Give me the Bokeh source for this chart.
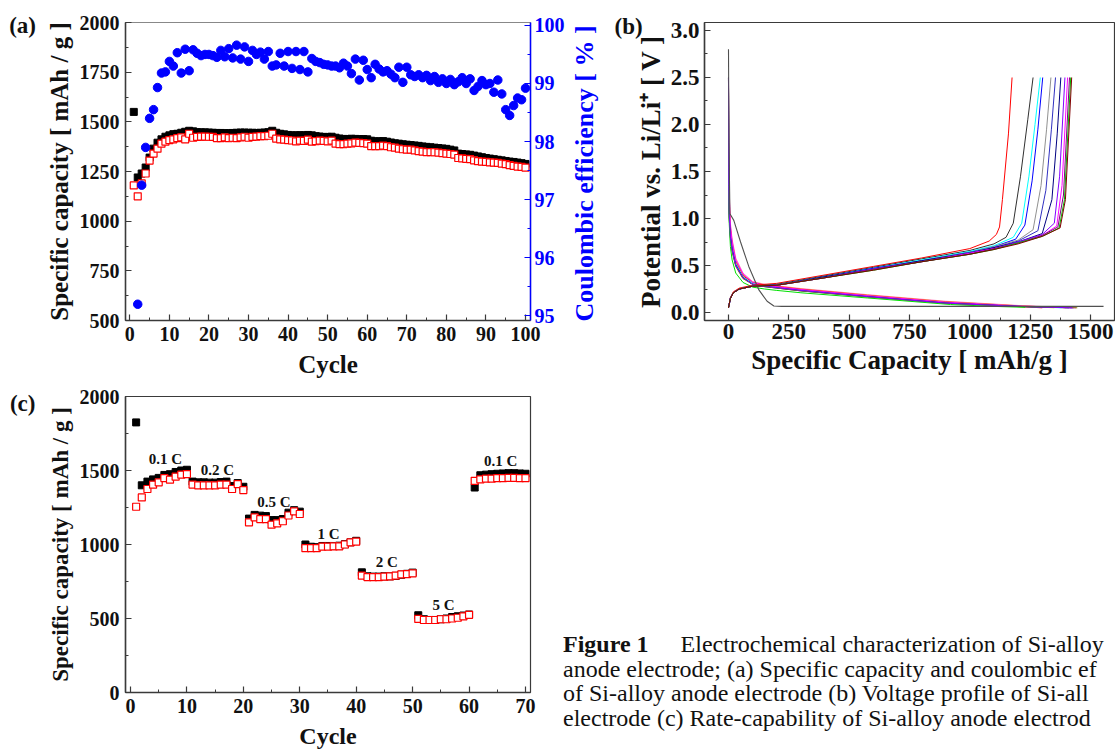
import math
from bokeh.plotting import figure
from bokeh.models import Range1d, LinearAxis, SingleIntervalTicker, Label, PrintfTickFormatter, Div
from bokeh.layouts import column, row
from bokeh.embed import file_html
from bokeh.resources import INLINE

SERIF = "Liberation Serif"

# ---------------- Panel (a): cycling, 100 cycles ----------------
cycles_a = list(range(1, 101))
discharge_a = [1550, 1220, 1240, 1270, 1320, 1365, 1395, 1412, 1425, 1432,
               1438, 1440, 1445, 1450, 1455, 1452, 1448, 1447, 1447, 1446,
               1445, 1444, 1444, 1443, 1443, 1444, 1445, 1446, 1446, 1445,
               1445, 1444, 1445, 1446, 1448, 1455, 1445, 1440, 1437, 1434,
               1432, 1432, 1433, 1432, 1434, 1432, 1428, 1426, 1424, 1424,
               1425, 1420, 1416, 1414, 1413, 1415, 1414, 1413, 1413, 1412,
               1405, 1402, 1402, 1403, 1400, 1396, 1392, 1390, 1387, 1385,
               1383, 1381, 1379, 1376, 1374, 1372, 1370, 1368, 1366, 1364,
               1360, 1356, 1340, 1338, 1336, 1334, 1330, 1326, 1322, 1318,
               1315, 1312, 1309, 1306, 1303, 1300, 1298, 1295, 1292, 1288]
charge_a = [1180, 1125, 1190, 1240, 1305, 1340, 1365, 1390, 1400, 1408,
            1412, 1418, 1422, 1412, 1440, 1420, 1424, 1426, 1426, 1425,
            1424, 1418, 1418, 1422, 1418, 1420, 1418, 1422, 1425, 1420,
            1424, 1426, 1428, 1428, 1430, 1440, 1415, 1412, 1410, 1408,
            1406, 1402, 1405, 1404, 1410, 1400, 1403, 1405, 1404, 1402,
            1405, 1390, 1388, 1388, 1390, 1392, 1395, 1394, 1393, 1390,
            1378, 1378, 1378, 1380, 1378, 1372, 1370, 1365, 1362, 1360,
            1360, 1356, 1353, 1350, 1348, 1348, 1347, 1345, 1342, 1340,
            1338, 1335, 1318, 1316, 1314, 1312, 1306, 1302, 1300, 1298,
            1296, 1295, 1293, 1290, 1287, 1282, 1278, 1275, 1273, 1270]
ce_cycles = list(range(2, 101))
ce_a = [95.2, 97.25, 97.9, 98.4, 98.55, 98.93, 99.18, 99.2, 99.38,
        99.3, 99.53, 99.18, 99.59, 99.22, 99.58, 99.52, 99.48, 99.5, 99.5,
        99.48, 99.45, 99.57, 99.46, 99.6, 99.44, 99.66, 99.42, 99.63, 99.38,
        99.57, 99.5, 99.54, 99.42, 99.55, 99.3, 99.32, 99.52, 99.3, 99.55,
        99.26, 99.55, 99.24, 99.55, 99.2, 99.43, 99.38, 99.36, 99.33, 99.32,
        99.3, 99.3, 99.27, 99.35, 99.3, 99.17, 99.42, 99.06, 99.4, 99.24,
        99.1, 99.33, 99.25, 99.2, 99.22, 99.16, 99.1, 99.28, 99.02, 99.28,
        99.15, 99.12, 99.15, 99.1, 99.14, 99.05, 99.12, 99.02, 99.08, 99.0,
        99.07, 98.98, 99.03, 99.1, 99.0, 99.08, 98.88, 98.95, 99.05, 98.98,
        99.0, 98.85, 99.06, 98.82, 98.55, 98.45, 98.62, 98.75, 98.72, 98.92]

# ---------------- Panel (b): voltage profiles ----------------
first_dis_cap = [0, 2, 6, 22, 50, 84, 126, 160, 188, 220, 1554]
first_dis_v = [2.80, 1.80, 1.05, 0.98, 0.75, 0.49, 0.24, 0.12, 0.07, 0.065, 0.065]
first_dis_color = "#505050"

dis_colors = ["#FF80C0", "#FF8000", "#FF0000", "#E0E000", "#00FFFF", "#0000FF",
              "#FF00FF", "#000080", "#808000", "#00E000", "#8000FF"]
dis_caps = [
    [0, 1, 3, 8, 15, 30, 60, 100, 150, 200, 300, 575, 900, 1200, 1420],
    [0, 1, 3, 8, 15, 30, 60, 100, 150, 200, 300, 575, 900, 1200, 1400],
    [0, 1, 3, 8, 15, 30, 60, 100, 150, 200, 300, 575, 900, 1150, 1300],
    [0, 1, 3, 8, 15, 30, 60, 100, 150, 200, 300, 575, 900, 1200, 1350],
    [0, 1, 3, 8, 15, 30, 60, 100, 150, 200, 300, 575, 900, 1200, 1380],
    [0, 1, 3, 8, 15, 30, 60, 100, 150, 200, 300, 575, 900, 1200, 1430],
    [0, 1, 3, 8, 15, 30, 60, 100, 150, 200, 300, 575, 900, 1200, 1440],
    [0, 1, 3, 8, 15, 30, 60, 100, 150, 200, 300, 575, 900, 1200, 1410],
    [0, 1, 3, 8, 15, 30, 60, 100, 150, 200, 300, 575, 900, 1200, 1445],
    [0, 1, 3, 8, 15, 30, 60, 100, 150, 200, 300, 575, 920, 1100, 1230],
    [0, 1, 3, 8, 15, 30, 60, 100, 150, 200, 300, 575, 900, 1200, 1425],
]
dis_volts = [
    [2.50, 1.70, 1.30, 0.95, 0.78, 0.58, 0.42, 0.33, 0.30, 0.285, 0.255, 0.19, 0.12, 0.075, 0.05],
    [2.50, 1.55, 1.20, 0.90, 0.74, 0.55, 0.40, 0.32, 0.295, 0.28, 0.25, 0.185, 0.115, 0.072, 0.05],
    [2.50, 1.50, 1.15, 0.88, 0.72, 0.54, 0.39, 0.32, 0.29, 0.275, 0.245, 0.18, 0.11, 0.07, 0.05],
    [2.50, 1.45, 1.12, 0.86, 0.70, 0.53, 0.38, 0.31, 0.285, 0.27, 0.24, 0.178, 0.108, 0.068, 0.05],
    [2.50, 1.40, 1.10, 0.84, 0.69, 0.52, 0.38, 0.31, 0.28, 0.265, 0.235, 0.172, 0.104, 0.066, 0.05],
    [2.50, 1.35, 1.05, 0.82, 0.68, 0.51, 0.37, 0.30, 0.28, 0.265, 0.235, 0.17, 0.10, 0.065, 0.05],
    [2.50, 1.60, 1.25, 0.92, 0.76, 0.56, 0.41, 0.32, 0.29, 0.275, 0.245, 0.18, 0.11, 0.07, 0.05],
    [2.50, 1.30, 1.00, 0.80, 0.66, 0.50, 0.37, 0.30, 0.275, 0.26, 0.23, 0.168, 0.10, 0.065, 0.05],
    [2.50, 1.30, 1.00, 0.78, 0.65, 0.49, 0.36, 0.30, 0.275, 0.26, 0.23, 0.165, 0.098, 0.063, 0.05],
    [2.50, 1.30, 0.95, 0.70, 0.56, 0.42, 0.32, 0.27, 0.25, 0.235, 0.21, 0.155, 0.085, 0.065, 0.055],
    [2.50, 1.35, 1.05, 0.80, 0.67, 0.50, 0.37, 0.30, 0.28, 0.265, 0.235, 0.17, 0.10, 0.065, 0.05],
]

chg_colors = ["#FF0000", "#303030", "#00FFFF", "#0000FF", "#909090", "#3030C0",
              "#000080", "#8000FF", "#FF00FF", "#800080", "#00C000", "#800000"]
chg_caps = [
    [0, 8, 20, 45, 100, 200, 400, 600, 800, 1000, 1080, 1110, 1123, 1135, 1160, 1175],
    [0, 8, 20, 45, 100, 200, 400, 600, 800, 1000, 1100, 1150, 1180, 1210, 1240, 1262],
    [0, 8, 20, 45, 100, 200, 400, 600, 800, 1000, 1100, 1180, 1215, 1245, 1270, 1292],
    [0, 8, 20, 45, 100, 200, 400, 600, 800, 1000, 1100, 1190, 1228, 1258, 1282, 1302],
    [0, 8, 20, 45, 100, 200, 400, 600, 800, 1000, 1100, 1200, 1262, 1295, 1318, 1336],
    [0, 8, 20, 45, 100, 200, 400, 600, 800, 1000, 1100, 1200, 1282, 1315, 1338, 1355],
    [0, 8, 20, 45, 100, 200, 400, 600, 800, 1000, 1100, 1200, 1300, 1340, 1362, 1377],
    [0, 8, 20, 45, 100, 200, 400, 600, 800, 1000, 1100, 1200, 1300, 1350, 1372, 1394],
    [0, 8, 20, 45, 100, 200, 400, 600, 800, 1000, 1100, 1200, 1300, 1360, 1382, 1405],
    [0, 8, 20, 45, 100, 200, 400, 600, 800, 1000, 1100, 1200, 1300, 1365, 1388, 1413],
    [0, 8, 20, 45, 100, 200, 400, 600, 800, 1000, 1100, 1200, 1300, 1370, 1392, 1418],
    [0, 8, 20, 45, 100, 200, 400, 600, 800, 1000, 1100, 1200, 1300, 1374, 1396, 1422],
]
chg_volts = [
    [0.05, 0.16, 0.22, 0.26, 0.29, 0.31, 0.40, 0.49, 0.58, 0.68, 0.76, 0.83, 0.91, 1.20, 1.90, 2.50],
    [0.05, 0.15, 0.21, 0.25, 0.28, 0.30, 0.39, 0.48, 0.57, 0.66, 0.73, 0.80, 0.95, 1.45, 2.05, 2.50],
    [0.05, 0.15, 0.21, 0.25, 0.28, 0.29, 0.38, 0.47, 0.56, 0.65, 0.71, 0.80, 0.95, 1.45, 2.00, 2.50],
    [0.05, 0.15, 0.21, 0.25, 0.28, 0.29, 0.38, 0.47, 0.55, 0.64, 0.70, 0.78, 0.93, 1.40, 1.95, 2.50],
    [0.05, 0.15, 0.21, 0.25, 0.28, 0.29, 0.38, 0.46, 0.55, 0.64, 0.70, 0.77, 0.88, 1.35, 1.95, 2.50],
    [0.05, 0.15, 0.21, 0.25, 0.28, 0.29, 0.38, 0.46, 0.55, 0.64, 0.69, 0.76, 0.87, 1.30, 1.95, 2.50],
    [0.05, 0.15, 0.21, 0.25, 0.28, 0.29, 0.38, 0.46, 0.55, 0.63, 0.69, 0.75, 0.84, 1.20, 1.90, 2.50],
    [0.05, 0.15, 0.21, 0.25, 0.28, 0.29, 0.37, 0.46, 0.54, 0.63, 0.68, 0.75, 0.83, 0.95, 1.45, 2.50],
    [0.05, 0.15, 0.21, 0.25, 0.28, 0.29, 0.37, 0.46, 0.54, 0.63, 0.68, 0.74, 0.82, 0.92, 1.35, 2.50],
    [0.05, 0.15, 0.21, 0.25, 0.28, 0.29, 0.37, 0.46, 0.54, 0.62, 0.68, 0.74, 0.82, 0.91, 1.25, 2.50],
    [0.05, 0.15, 0.21, 0.25, 0.28, 0.29, 0.37, 0.45, 0.54, 0.62, 0.67, 0.74, 0.81, 0.90, 1.20, 2.50],
    [0.05, 0.15, 0.21, 0.25, 0.28, 0.29, 0.37, 0.45, 0.54, 0.62, 0.67, 0.73, 0.81, 0.90, 1.20, 2.50],
]

# ---------------- Panel (c): rate capability, 70 cycles ----------------
cycles_c = list(range(1, 71))
discharge_c = [1825, 1400, 1425, 1440, 1450, 1470, 1475, 1490, 1500, 1505,
               1425, 1420, 1420, 1418, 1418, 1422, 1425, 1395, 1415, 1390,
               1175, 1200, 1195, 1192, 1165, 1165, 1172, 1215, 1232, 1222,
               1000, 985, 982, 990, 990, 990, 992, 1002, 1015, 1025,
               812, 785, 783, 783, 785, 785, 788, 796, 802, 810,
               522, 495, 490, 490, 495, 500, 510, 515, 520, 527,
               1385, 1468, 1472, 1475, 1478, 1480, 1482, 1482, 1480, 1478]
charge_c = [1255, 1318, 1375, 1404, 1420, 1449, 1438, 1458, 1472, 1476,
            1405, 1400, 1400, 1400, 1400, 1405, 1405, 1375, 1408, 1368,
            1150, 1183, 1172, 1172, 1134, 1143, 1157, 1196, 1224, 1206,
            975, 975, 975, 985, 985, 988, 988, 1000, 1015, 1020,
            790, 780, 780, 780, 783, 785, 790, 798, 800, 805,
            497, 490, 490, 490, 495, 495, 500, 505, 515, 525,
            1430, 1440, 1445, 1445, 1448, 1448, 1450, 1450, 1448, 1448]
rate_labels = ["0.1 C", "0.2 C", "0.5 C", "1 C", "2 C", "5 C", "0.1 C"]
rate_label_x = [6.2, 15.4, 25.4, 35.1, 45.4, 55.5, 65.6]
rate_label_y = [1580, 1505, 1285, 1073, 880, 594, 1566]

# caption text as visible in the reference (the page edge cuts it)
caption_head = "Figure 1"
caption_first = "Electrochemical characterization of Si-alloy"
caption_lines = [
    "anode electrode; (a) Specific capacity and coulombic ef",
    "of Si-alloy anode electrode (b) Voltage profile of Si-all",
    "electrode (c) Rate-capability of Si-alloy anode electrod",
]


def style_axis(ax, tick_size, label_size, color="#111111", line_color="#3a3a3a",
               label_standoff=6, axis_standoff=6):
    ax.major_label_text_font = SERIF
    ax.major_label_text_font_style = "bold"
    ax.major_label_text_font_size = tick_size
    ax.major_label_text_color = color
    ax.axis_label_text_font = SERIF
    ax.axis_label_text_font_style = "bold"
    ax.axis_label_text_font_size = label_size
    ax.axis_label_text_color = color
    ax.axis_line_color = line_color
    ax.axis_line_width = 1.5
    ax.major_tick_line_color = line_color
    ax.minor_tick_line_color = line_color
    ax.major_tick_line_width = 1.2
    ax.minor_tick_line_width = 1.0
    ax.major_tick_in = 6
    ax.major_tick_out = 0
    ax.minor_tick_in = 3
    ax.minor_tick_out = 0
    ax.major_label_standoff = label_standoff
    ax.axis_label_standoff = axis_standoff


def base_fig(**kw):
    p = figure(toolbar_location=None, output_backend="svg", **kw)
    p.xgrid.grid_line_color = None
    p.ygrid.grid_line_color = None
    p.background_fill_color = "white"
    p.border_fill_color = "white"
    p.outline_line_color = "#3a3a3a"
    p.outline_line_width = 1.2
    return p


def panel_label(text, x, y, size="23px"):
    return Label(x=x, y=y, text=text, text_align="center", text_baseline="middle",
                 text_font=SERIF, text_font_style="bold", text_font_size=size, text_color="#111111")


# ---------- (a) ----------
pa = base_fig(width=600, height=385, x_range=Range1d(-1.09, 101.26), y_range=Range1d(500, 2000),
              min_border_left=125, min_border_right=70, min_border_top=22, min_border_bottom=65,
              x_axis_label="Cycle", y_axis_label="Specific capacity [ mAh / g ]")
pa.outline_line_color = "#888888"
pa.xaxis.ticker = SingleIntervalTicker(interval=10, num_minor_ticks=2)
pa.yaxis.ticker = SingleIntervalTicker(interval=250, num_minor_ticks=2)
for ax in pa.xaxis:
    style_axis(ax, "20px", "25px", label_standoff=6, axis_standoff=7)
for ax in pa.yaxis:
    style_axis(ax, "20px", "25px", label_standoff=6, axis_standoff=4)
pa.extra_y_ranges = {"ce": Range1d(94.92, 100.05)}
ax_r = LinearAxis(y_range_name="ce", ticker=SingleIntervalTicker(interval=1, num_minor_ticks=2))
style_axis(ax_r, "20px", "26px", color="#0000FF", line_color="#0000FF",
           label_standoff=4, axis_standoff=0)
pa.add_layout(ax_r, "right")
pa.add_layout(Label(x=114.8, y=1240, text="Coulombic efficiency [ % ]", angle=math.pi / 2,
                    text_align="center", text_baseline="middle", text_font=SERIF,
                    text_font_style="bold", text_font_size="26px", text_color="#0000FF"), "right")

pa.scatter(cycles_a, discharge_a, marker="square", size=7, fill_color="black", line_color="black")
pa.scatter(cycles_a, charge_a, marker="square", size=7, fill_color="white", line_color="#FF0000",
           line_width=1.2)
pa.scatter(ce_cycles, ce_a, marker="circle", size=8.5, fill_color="#0000FF", line_color="#0000FF",
           y_range_name="ce")
pa.add_layout(panel_label("(a)", -27.1, 1985), "left")

# ---------- (b) ----------
pb = base_fig(width=515, height=385, x_range=Range1d(-99.4, 1599.4), y_range=Range1d(-0.085, 3.085),
              min_border_left=104, min_border_right=1, min_border_top=22, min_border_bottom=65,
              x_axis_label="Specific Capacity [ mAh/g ]", y_axis_label="Potential vs. Li/Li\u207a [ V ]")
pb.xaxis.ticker = SingleIntervalTicker(interval=250, num_minor_ticks=2)
pb.yaxis.ticker = SingleIntervalTicker(interval=0.5, num_minor_ticks=2)
pb.yaxis.formatter = PrintfTickFormatter(format="%.1f")
for ax in pb.xaxis:
    style_axis(ax, "23px", "27px", label_standoff=3, axis_standoff=3)
for ax in pb.yaxis:
    style_axis(ax, "23px", "27px", label_standoff=5, axis_standoff=2)

for caps, volts, col in zip(dis_caps, dis_volts, dis_colors):
    pb.line(caps, volts, line_color=col, line_width=1)
pb.line(first_dis_cap, first_dis_v, line_color=first_dis_color, line_width=1.1)
for caps, volts, col in zip(chg_caps, chg_volts, chg_colors):
    pb.line(caps, volts, line_color=col, line_width=1)
pb.add_layout(panel_label("(b)", -414, 3.043), "left")

# ---------- (c) ----------
pc = base_fig(width=545, height=370, x_range=Range1d(-0.886, 70.89), y_range=Range1d(0, 2000),
              min_border_left=125, min_border_right=15, min_border_top=11, min_border_bottom=63,
              x_axis_label="Cycle", y_axis_label="Specific capacity [ mAh / g ]")
pc.xaxis.ticker = SingleIntervalTicker(interval=10, num_minor_ticks=2)
pc.yaxis.ticker = SingleIntervalTicker(interval=500, num_minor_ticks=2)
for ax in pc.xaxis:
    style_axis(ax, "20px", "24px", label_standoff=6, axis_standoff=7)
for ax in pc.yaxis:
    style_axis(ax, "20px", "23px", label_standoff=6, axis_standoff=4)
pc.scatter(cycles_c, discharge_c, marker="square", size=7, fill_color="black", line_color="black")
pc.scatter(cycles_c, charge_c, marker="square", size=7, fill_color="white", line_color="#FF0000",
           line_width=1.2)
for t, x, y in zip(rate_labels, rate_label_x, rate_label_y):
    pc.add_layout(Label(x=x, y=y, text=t, text_align="center", text_baseline="middle",
                        text_font=SERIF, text_font_style="bold", text_font_size="15px",
                        text_color="#111111"))
pc.add_layout(panel_label("(c)", -19.1, 1953), "left")

# ---------- caption ----------
cap_html = (
    '<div style="font-family:\'Liberation Serif\',serif;font-size:24px;line-height:24.5px;'
    'white-space:nowrap;color:#111111;padding-left:13px;padding-top:242px;margin:0;">'
    '<b>' + caption_head + '</b><span style="display:inline-block;margin-left:32px;">'
    + caption_first + '</span><br>' + '<br>'.join(caption_lines) + '</div>'
)
caption = Div(text=cap_html, width=570, height=370)

layout = column(row(pa, pb), row(pc, caption))
open("out.html", "w").write(file_html(layout, INLINE))
